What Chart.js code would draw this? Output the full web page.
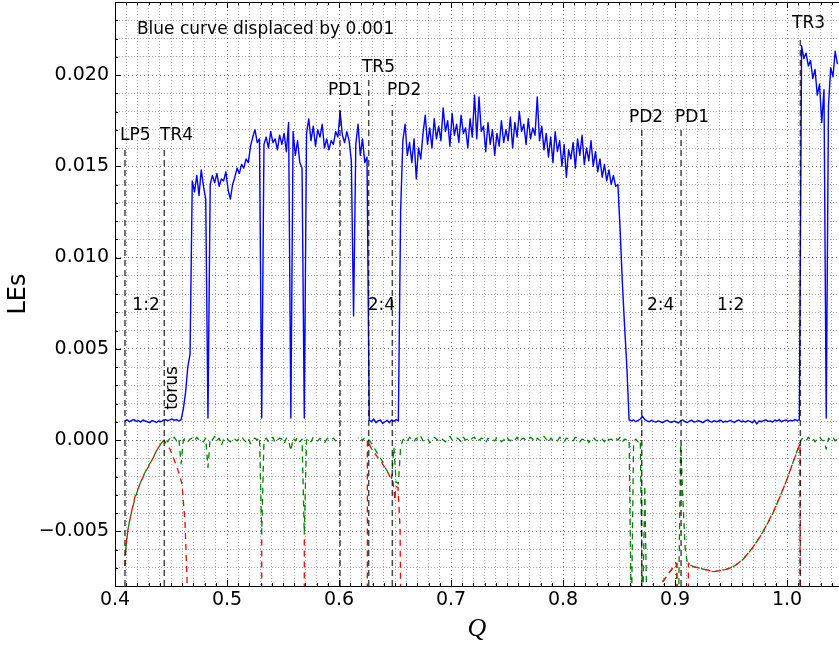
<!DOCTYPE html>
<html>
<head>
<meta charset="utf-8">
<script src="https://cdn.jsdelivr.net/npm/chart.js@4.4.1/dist/chart.umd.min.js"></script>
<style>
  html, body { margin: 0; padding: 0; background: #fff; }
  #wrap { width: 839px; height: 645px; }
</style>
</head>
<body>
<div id="wrap"><canvas id="lesChart" width="839" height="645"></canvas></div>
<script>
// 1. Data (LE values are in units of 1e-3)

// shared Q grid for the blue and green curves
const Q_START = 0.409;
const Q_STEP = 0.002;
const Q_COUNT = 319;
const qGrid = Array.from({ length: Q_COUNT }, (_, i) => +(Q_START + i * Q_STEP).toFixed(4));

// blue: largest LE, displaced by +0.001
const blueLE = [
    // 0.409 - 0.459 (1:2 torus region)
    1.05, 1.10, 1.00, 1.08, 1.12, 1.02, 1.06, 0.98, 1.10, 1.04,
    1.00, 0.95, 1.07, 1.02, 0.96, 1.05, 1.00, 1.08, 1.12, 1.06,
    1.10, 1.15, 1.08, 1.12, 1.05, 1.10,
    1.7, 2.6, 4.0, 4.7,
    14.2, 13.6, 14.5, 13.4, 14.8, 13.9, 13.2, 1.2, 14.0,
    14.5, 14.1, 14.6, 13.9, 14.3, 14.2, 14.7, 13.7, 13.2, 14.0,
    14.4, 14.9, 14.6, 15.1, 14.9, 15.4, 15.2, 16.1, 16.6, 17.0, 16.3, 16.5,
    1.2,
    16.2, 16.6, 16.0, 16.9, 16.3, 16.5, 15.9, 16.7, 16.2, 16.8, 15.8, 17.4,
    1.2,
    16.9, 15.6, 16.4, 15.2, 14.9,
    1.2,
    16.8, 17.6, 16.4, 17.2, 16.1, 17.0, 16.6, 17.3, 16.0, 16.5,
    15.9, 16.4, 16.2, 16.9, 16.6, 18.0, 16.7, 16.3, 16.9, 16.4, 15.3,
    6.8,
    16.2, 17.3, 15.6, 16.5, 15.2, 15.5,
    // 2:4 window
    1.10, 1.00, 1.15, 0.95, 1.05, 1.10, 0.90, 1.00, 1.08, 0.95, 1.10, 1.02, 1.12, 1.05,
    // 0.655 - 0.847
    12.5, 16.4, 17.3, 15.6, 16.3, 15.2, 16.5, 14.3, 16.0, 15.4,
    16.8, 17.8, 16.2, 17.1, 16.0, 17.6, 16.5, 17.2, 16.4, 18.2,
    16.9, 17.5, 16.1, 17.9, 16.7, 17.3, 16.3, 17.8, 16.8, 17.1,
    16.0, 17.6, 16.6, 18.9, 16.5, 18.8, 16.9, 17.2, 15.8, 17.4,
    16.2, 17.0, 15.6, 16.8, 16.1, 17.5, 16.3, 17.0, 16.4, 17.7,
    16.0, 17.4, 16.6, 18.0, 16.9, 17.3, 16.2, 17.6, 16.5, 17.1,
    16.7, 18.8, 16.4, 17.2, 15.9, 16.8, 15.5, 16.6, 15.2, 16.9,
    15.8, 16.4, 15.0, 16.2, 14.4, 15.9, 15.4, 16.3, 14.9, 16.5,
    15.6, 16.7, 15.1, 16.0, 15.3, 16.4, 15.0, 15.8, 14.7, 15.4,
    14.4, 15.1, 14.2, 14.8, 14.0, 14.5, 13.9,
    14.0, 11.5, 8.6, 6.2, 4.0, 1.1,
    // 0.861 - 1.011
    1.05, 1.10, 1.00, 1.08, 1.15, 1.30, 1.12, 1.05, 1.00, 1.08,
    1.02, 0.98, 1.05, 1.00, 0.95, 1.03, 1.08, 1.00, 0.97, 1.04,
    1.00, 0.93, 1.05, 1.10, 1.00, 0.96, 1.04, 1.08, 0.98, 1.02,
    1.06, 1.00, 0.95, 1.05, 1.10, 1.02, 0.98, 1.06, 1.00, 1.04,
    1.08, 0.97, 1.03, 1.00, 1.07, 1.02, 0.96, 1.05, 1.10, 1.00,
    1.04, 0.98, 1.06, 1.02, 0.95, 1.08, 0.88, 1.04, 1.00, 1.06,
    1.10, 1.02, 1.05, 0.98, 1.08, 1.04, 1.12, 1.00, 1.06, 1.10,
    1.02, 1.08, 1.05, 1.12, 1.06, 1.10,
    // after TR3
    21.6, 20.9, 21.2, 20.5, 20.8, 19.8, 20.3, 18.9, 19.5, 17.4, 19.2, 1.2, 18.3, 20.4, 19.9, 21.3, 20.6
];

// green: second LE (-10 = below the axis)
const greenLE = [
    -6.3, -5.2, -4.4, -3.9, -3.4, -3.0, -2.6, -2.3, -2.0, -1.75,
    -1.5, -1.3, -1.1, -0.85, -0.6, -0.4, -0.2, -0.05,
    0.05, -0.10, 0.10, 0.00, 0.15, -0.05, 0.10,
    -1.3,
    0.00, 0.10, -0.10, 0.05, 0.10, -0.05, 0.15, 0.00, 0.05, -0.10, 0.10,
    -1.5,
    0.10, 0.00, 0.20, -0.05, 0.10, -0.30, 0.05, 0.15, 0.00, -0.10,
    0.10, 0.05, -0.05, 0.10, 0.20, 0.00, -0.10, 0.10, -0.20, 0.05,
    0.10, 0.00, 0.15,
    -5.1,
    0.00, 0.10, -0.10, 0.05, 0.15, -0.15, 0.00, 0.10, 0.05, -0.20, 0.10, 0.00,
    -0.6,
    0.10, -0.05, 0.15, -0.10, 0.05,
    -5.1,
    0.00, 0.10, -0.10, 0.15, 0.05, -0.05, 0.10, 0.00, -0.15, 0.05,
    0.10, 0.00, 0.10, -0.05, 0.05, 0.10,
    null, null, null, null, null, null, null,
    0.10, 0.20, -0.05, 0.15, 0.05,
    0.00, -0.2, -0.4, -0.6, -0.8, -1.0, -1.2, -1.5, -1.7, -1.9, -2.1, -0.4, -2.3, -2.4, -0.4,
    0.00, 0.10, -0.05, 0.15, 0.05, -0.10, 0.10, 0.00, 0.20, -0.05,
    0.05, 0.10, -0.15, 0.00, 0.15, 0.05, -0.05, 0.10, 0.00, -0.10,
    0.10, 0.20, 0.00, -0.05, 0.10, 0.05, -0.10, 0.15, 0.00, 0.05,
    -0.05, 0.10, 0.15, -0.10, 0.00, 0.10, 0.05, -0.15, 0.10, 0.00,
    0.05, -0.05, 0.15, 0.10, -0.10, 0.00, 0.20, 0.05, -0.05, 0.10,
    0.00, 0.15, -0.10, 0.05, 0.10, -0.05, 0.00, 0.15, 0.05, -0.10,
    0.10, 0.00, -0.05, 0.20, 0.05, -0.15, 0.10, 0.00, 0.05, -0.05,
    0.15, 0.00, -0.10, 0.10, 0.05, 0.00, -0.05, 0.15, 0.10, -0.10,
    0.05, 0.00, 0.10, -0.15, 0.05, 0.15, 0.00, -0.05, 0.10, 0.05,
    -0.10, 0.15, 0.00, 0.05, -0.05, 0.10, 0.00, 0.15, -0.10, 0.05,
    0.00,
    0.05, -10, -0.10, 0.05, -0.10, 0.00, -10, -2.5, -10, -10,
    -10, -10, -10, -10, -7.95, -7.75, -7.6, -7.4, -7.25, -7.1,
    -6.9, -6.75, -10, -0.2, -3.2, -5.9,
    -6.75, -6.8, -6.9, -6.95, -6.98, -7.0, -7.04, -7.07, -7.1, -7.13,
    -7.16, -7.2, -7.21, -7.19, -7.17, -7.16, -7.12, -7.1, -7.06, -7.01,
    -6.97, -6.9, -6.82, -6.73, -6.64, -6.52, -6.39, -6.25, -6.08, -5.92,
    -5.75, -5.57, -5.38, -5.18, -4.97, -4.75, -4.53, -4.3, -4.05, -3.78,
    -3.5, -3.21, -2.91, -2.6, -2.3, -1.97, -1.63, -1.29, -0.95, -0.6,
    -0.25,
    0.05, 0.10, -0.05, 0.15, 0.00, 0.10, -0.10, 0.05, 0.20, 0.00,
    -0.05, -0.5, 0.10, 0.00, 0.15, -0.05, 0.05
];

// red: third LE, own Q points (null = break, -10 = below the axis)
const redQ = [
    0.4089, 0.4095, 0.4105, 0.4116, 0.4135, 0.4152, 0.4179, 0.4223, 0.4268, 0.4330, 0.4384, 0.4438,
    0.4446, 0.4491, 0.4554, 0.4580, 0.4598, 0.4607, 0.4625, 0.4643, 0.4646,
    0.50,
    0.5310, 0.5310, 0.55,
    0.5690, 0.5690, 0.60,
    0.6253, 0.6253, 0.6295, 0.6340, 0.6384, 0.6438, 0.6482, 0.6500, 0.6505, 0.6527, 0.6545, 0.6552, 0.75,
    0.8848, 0.8866, 0.8900, 0.8940, 0.8980, 0.9018, 0.9018, 0.907,
    0.9119, 0.9119, 0.9163, 0.9223, 0.9283, 0.9342, 0.9402, 0.9462, 0.9521, 0.9580,
    0.9640, 0.9699, 0.9759, 0.9818, 0.9878, 0.9938, 0.9997, 1.0056, 1.0116, 1.0116
];
const redLE = [
    -6.9, -6.2, -5.4, -4.9, -4.3, -3.8, -3.1, -2.4, -1.8, -1.1, -0.45, 0.0,
    -0.1, -0.5, -1.5, -2.0, -2.4, -3.1, -4.5, -7.6, -10,
    null,
    -10, -5.1, null,
    -10, -5.1, null,
    -10, 0.0, -0.55, -0.9, -1.26, -1.81, -2.3, -3.3, -2.55, -2.6, -4.8, -10, null,
    -8.3, -7.95, -7.7, -7.35, -7.0, -6.75, -10, null,
    -10, -6.75, -6.94, -7.03, -7.12, -7.21, -7.16, -7.08, -6.94, -6.67,
    -6.30, -5.85, -5.30, -4.66, -3.93, -3.10, -2.19, -1.19, -0.18, -10
];

// bifurcation markers
const bifNames = ['LP5', 'TR4', 'PD1', 'TR5', 'PD2', 'PD2', 'PD1', 'TR3'];
const bifQ = [0.4089, 0.4440, 0.6009, 0.6265, 0.6476, 0.8703, 0.9054, 1.0119];
const bifTopLE = [16.0, 16.0, 18.35, 19.8, 18.35, 17.0, 17.0, 22.0];
const bifLabelQ = [0.4045, 0.4402, 0.5902, 0.6205, 0.6429, 0.8589, 0.8999, 1.0045];
const bifLabelLE = [16.45, 16.45, 18.9, 20.15, 18.9, 17.45, 17.45, 22.6];

// resonance windows
const regionNames = ['1:2', '2:4', '2:4', '1:2'];
const regionQ = [0.4277, 0.6379, 0.8871, 0.9496];
const regionLE = 7.39;

const noteText = 'Blue curve displaced by 0.001';
const noteQ = 0.4196, noteLE = 22.5;
const torusQ = 0.4518, torusLE = 2.85;

// axis ranges
const X_MIN = 0.4, X_MAX = 1.0464;
const Y_MIN = -8, Y_MAX = 24;

// 2. Helpers
const FONT = '"DejaVu Sans", sans-serif';
const isMult = (v, step) => Math.abs(v / step - Math.round(v / step)) < 1e-6;
const fmtY = v => (v < 0 ? '\u2212' : '') + Math.abs(v / 1000).toFixed(3);
const toPts = (xs, ys) => ys.map((y, i) => ({ x: xs[i], y: y }));

const bifPoints = [];
bifQ.forEach((q, k) => {
    bifPoints.push({ x: q, y: Y_MIN }, { x: q, y: bifTopLE[k] }, { x: q, y: null });
});

// 3. Plugins: frame, inward ticks, text annotations
const frameTicks = {
    id: 'frameTicks',
    afterDatasetsDraw(chart) {
        const { ctx, chartArea: a, scales: { x, y } } = chart;
        ctx.save();
        ctx.strokeStyle = '#000';
        ctx.lineWidth = 1;
        ctx.beginPath();
        x.ticks.forEach(t => {
            const px = Math.round(x.getPixelForValue(t.value)) + 0.5;
            const len = isMult(t.value, 0.1) ? 6 : 3;
            ctx.moveTo(px, a.bottom); ctx.lineTo(px, a.bottom - len);
            ctx.moveTo(px, a.top); ctx.lineTo(px, a.top + len);
        });
        y.ticks.forEach(t => {
            const py = Math.round(y.getPixelForValue(t.value)) + 0.5;
            const len = isMult(t.value, 5) ? 6 : 3;
            ctx.moveTo(a.left, py); ctx.lineTo(a.left + len, py);
        });
        ctx.moveTo(a.left, a.top + 0.5);
        ctx.lineTo(a.right, a.top + 0.5);
        ctx.stroke();
        ctx.restore();
    }
};

const annotations = {
    id: 'annotations',
    afterDatasetsDraw(chart) {
        const { ctx, scales: { x, y } } = chart;
        ctx.save();
        ctx.fillStyle = '#000';
        ctx.font = '17px ' + FONT;
        ctx.textAlign = 'left';
        ctx.textBaseline = 'alphabetic';
        bifNames.forEach((n, k) => {
            ctx.fillText(n, x.getPixelForValue(bifLabelQ[k]), y.getPixelForValue(bifLabelLE[k]));
        });
        ctx.textAlign = 'center';
        ctx.textBaseline = 'middle';
        regionNames.forEach((n, k) => {
            ctx.fillText(n, x.getPixelForValue(regionQ[k]), y.getPixelForValue(regionLE));
        });
        ctx.textAlign = 'left';
        ctx.fillText(noteText, x.getPixelForValue(noteQ), y.getPixelForValue(noteLE));
        ctx.translate(x.getPixelForValue(torusQ), y.getPixelForValue(torusLE));
        ctx.rotate(-Math.PI / 2);
        ctx.textAlign = 'center';
        ctx.fillText('torus', 0, 0);
        ctx.restore();
    }
};

// 4. Chart
const gridColor = major => major ? 'rgba(0,0,0,0.6)' : 'rgba(0,0,0,0.35)';

new Chart(document.getElementById('lesChart'), {
    type: 'line',
    data: {
        datasets: [
            {
                label: 'bifurcations',
                data: bifPoints,
                borderColor: 'rgba(0,0,0,0.72)',
                borderWidth: 1.5,
                borderDash: [6, 4],
                pointRadius: 0,
                order: 0
            },
            {
                label: 'LE3',
                data: toPts(redQ, redLE),
                borderColor: '#ff0000',
                borderWidth: 1.3,
                borderDash: [6, 5],
                pointRadius: 0,
                borderJoinStyle: 'round',
                order: 1
            },
            {
                label: 'LE2',
                data: toPts(qGrid, greenLE),
                borderColor: '#008000',
                borderWidth: 1.3,
                borderDash: [6, 5],
                borderDashOffset: 5.5,
                pointRadius: 0,
                borderJoinStyle: 'round',
                order: 2
            },
            {
                label: 'LE1 + 0.001',
                data: toPts(qGrid, blueLE),
                borderColor: '#0000ff',
                borderWidth: 1.4,
                pointRadius: 0,
                borderJoinStyle: 'round',
                order: 3
            }
        ]
    },
    options: {
        responsive: false,
        animation: false,
        events: [],
        layout: { padding: { top: 2, left: 0, right: 0, bottom: 0 } },
        plugins: { legend: { display: false }, tooltip: { enabled: false } },
        elements: { line: { tension: 0, fill: false } },
        scales: {
            x: {
                type: 'linear',
                min: X_MIN,
                max: X_MAX,
                afterFit: s => { s.height = 59; s.paddingLeft = 0; s.paddingRight = 0; },
                grid: {
                    drawTicks: false,
                    lineWidth: 1,
                    color: c => (c.tick && isMult(c.tick.value, 0.01)) ? gridColor(isMult(c.tick.value, 0.1)) : 'rgba(0,0,0,0)'
                },
                border: {
                    color: '#000',
                    width: 1,
                    dash: c => (c.tick && isMult(c.tick.value, 0.1)) ? [1, 3] : [1, 2]
                },
                ticks: {
                    stepSize: 0.01,
                    autoSkip: false,
                    includeBounds: false,
                    maxRotation: 0,
                    padding: 3,
                    color: '#000',
                    font: { family: FONT, size: 19 },
                    callback: v => isMult(v, 0.1) ? v.toFixed(1) : ''
                },
                title: {
                    display: true,
                    text: 'Q',
                    color: '#000',
                    padding: 0,
                    font: { family: '"Liberation Serif", serif', style: 'italic', size: 26 }
                }
            },
            y: {
                min: Y_MIN,
                max: Y_MAX,
                afterFit: s => { s.width = 115; s.paddingTop = 0; s.paddingBottom = 0; },
                grid: {
                    drawTicks: false,
                    lineWidth: 1,
                    color: c => c.tick ? gridColor(isMult(c.tick.value, 5)) : 'rgba(0,0,0,0)'
                },
                border: {
                    color: '#000',
                    width: 1,
                    dash: c => (c.tick && isMult(c.tick.value, 5)) ? [1, 3] : [1, 2]
                },
                ticks: {
                    stepSize: 1,
                    autoSkip: false,
                    padding: 6,
                    color: '#000',
                    font: { family: FONT, size: 19 },
                    callback: v => isMult(v, 5) ? fmtY(v) : ''
                },
                title: {
                    display: true,
                    text: 'LEs',
                    color: '#000',
                    padding: { top: 4, bottom: 0 },
                    font: { family: FONT, size: 24 }
                }
            }
        }
    },
    plugins: [frameTicks, annotations]
});
</script>
</body>
</html>
